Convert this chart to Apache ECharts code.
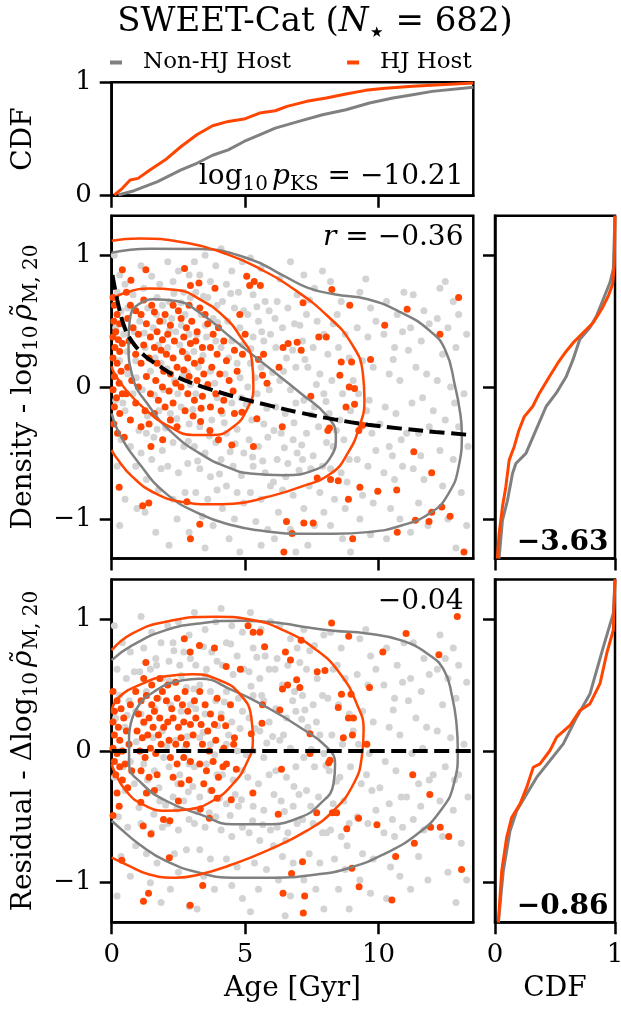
<!DOCTYPE html>
<html><head><meta charset="utf-8">
<script src="https://cdn.jsdelivr.net/npm/echarts@6/dist/echarts.min.js"></script>
<style>html,body{margin:0;padding:0;background:#fff}#c{width:621px;height:1011px}</style>
</head><body><div id="c"></div>
<script>
// ---------------- axis / tick data ----------------
const AGE_MIN = 0, AGE_MAX = 13.55;
const RHO_MIN = -1.3, RHO_MAX = 1.3;
const ageTicks = [0, 5, 10];
const rhoTicks = [-1, 0, 1];
const cdfTicks = [0, 1];

// ---------------- scatter: density panel ----------------
const nonHjDensity = [
[0.1,1.0],[0.3,0.85],[0.5,0.78],[0.2,0.72],[0.8,0.70],[0.6,0.60],[0.35,0.58],[0.15,0.45],[0.45,0.40],[0.85,0.42],[0.3,0.20],[0.6,0.10],[0.9,0.20],[0.15,-0.10],[0.5,-0.18],[0.8,-0.05],[0.35,-0.40],[0.7,-0.45],[0.2,-0.60],[0.9,-0.60],[0.5,-0.85],[0.95,-0.92],[0.3,-1.05],
[1.1,0.92],[1.5,0.84],[1.8,0.78],[1.2,0.75],[1.7,0.68],[1.35,0.60],[1.9,0.62],[1.05,0.50],[1.55,0.45],[1.95,0.50],[1.25,0.30],[1.75,0.32],[1.45,0.12],[1.85,0.18],[1.15,-0.02],[1.6,-0.06],[1.95,-0.02],[1.3,-0.35],[1.7,-0.32],[1.1,-0.50],[1.5,-0.55],[1.9,-0.48],[1.3,-0.70],[1.75,-0.78],[1.25,-0.95],[1.65,-1.1],[1.85,-0.62],
[2.1,0.95],[2.5,0.88],[2.9,0.85],[2.3,0.80],[2.7,0.72],[2.15,0.65],[2.6,0.64],[2.95,0.68],[2.25,0.52],[2.75,0.55],[2.4,0.42],[2.9,0.40],[2.1,0.30],[2.55,0.32],[2.8,0.25],[2.35,0.05],[2.65,0.08],[2.95,0.02],[2.2,-0.20],[2.6,-0.15],[2.9,-0.28],[2.3,-0.42],[2.7,-0.45],[2.1,-0.60],[2.5,-0.65],[2.85,-0.58],[2.3,-0.85],[2.75,-0.80],[2.45,-1.0],[2.9,-1.1],[2.15,-1.2],
[3.1,0.95],[3.5,1.00],[3.9,0.92],[3.3,0.85],[3.7,0.80],[3.15,0.72],[3.6,0.68],[3.95,0.62],[3.35,0.55],[3.8,0.52],[3.2,0.40],[3.55,0.38],[3.9,0.35],[3.25,0.15],[3.7,0.12],[3.15,-0.05],[3.6,0.0],[3.95,-0.08],[3.3,-0.30],[3.75,-0.25],[3.1,-0.45],[3.5,-0.50],[3.9,-0.42],[3.3,-0.62],[3.7,-0.68],[3.15,-0.80],[3.6,-0.85],[3.95,-0.78],[3.4,-0.98],[3.8,-1.05],[3.5,-1.22],
[4.1,1.05],[4.5,0.88],[4.9,0.95],[4.3,0.78],[4.75,0.72],[4.15,0.65],[4.6,0.60],[4.95,0.58],[4.35,0.50],[4.8,0.45],[4.1,0.30],[4.5,0.35],[4.9,0.32],[4.25,0.10],[4.7,0.18],[4.15,-0.20],[4.5,-0.12],[4.85,-0.08],[4.3,-0.35],[4.7,-0.32],[4.1,-0.55],[4.55,-0.60],[4.95,-0.50],[4.3,-0.75],[4.7,-0.80],[4.15,-0.92],[4.6,-1.0],[4.95,-0.88],[4.4,-1.15],[4.8,-1.25],
[5.2,0.98],[5.6,0.90],[5.3,0.70],[5.75,0.65],[5.1,0.55],[5.5,0.50],[5.9,0.58],[5.3,0.38],[5.7,0.35],[5.95,0.40],[5.2,0.18],[5.6,0.15],[5.1,0.0],[5.45,-0.05],[5.9,-0.02],[5.25,-0.25],[5.7,-0.28],[5.15,-0.40],[5.5,-0.45],[5.85,-0.38],[5.3,-0.60],[5.75,-0.65],[5.2,-0.80],[5.6,-0.85],[5.95,-0.75],[5.4,-1.02],[5.85,-1.08],[5.6,-1.2],
[6.3,0.82],[6.7,0.95],[6.2,0.65],[6.6,0.60],[6.95,0.70],[6.4,0.45],[6.85,0.48],[6.15,0.30],[6.55,0.22],[6.9,0.15],[6.3,0.05],[6.7,-0.02],[6.15,-0.15],[6.5,-0.20],[6.9,-0.12],[6.35,-0.35],[6.8,-0.40],[6.2,-0.55],[6.6,-0.58],[6.95,-0.50],[6.4,-0.78],[6.8,-0.82],[6.25,-0.95],[6.7,-1.08],[6.1,-1.15],[6.9,-1.25],
[7.2,0.85],[7.6,0.75],[7.9,0.88],[7.3,0.55],[7.7,0.50],[7.15,0.35],[7.55,0.30],[7.95,0.40],[7.35,0.15],[7.8,0.10],[7.2,-0.10],[7.6,-0.15],[7.95,-0.05],[7.3,-0.35],[7.75,-0.30],[7.15,-0.55],[7.55,-0.52],[7.9,-0.60],[7.4,-0.75],[7.8,-0.80],[7.2,-0.92],[7.6,-1.05],[7.95,-0.95],[7.35,-1.2],
[8.2,0.80],[8.6,0.65],[8.3,0.48],[8.75,0.40],[8.1,0.25],[8.5,0.30],[8.9,0.22],[8.25,0.05],[8.65,-0.05],[8.15,-0.20],[8.55,-0.25],[8.95,-0.18],[8.3,-0.45],[8.7,-0.40],[8.2,-0.62],[8.6,-0.65],[8.9,-0.55],[8.35,-0.85],[8.75,-0.92],[8.2,-1.05],[8.65,-1.15],[8.95,-1.25],
[9.3,0.72],[9.7,0.60],[9.2,0.45],[9.6,0.38],[9.9,0.50],[9.4,0.20],[9.8,0.15],[9.25,-0.05],[9.65,-0.10],[9.35,-0.30],[9.75,-0.35],[9.2,-0.55],[9.6,-0.60],[9.9,-0.48],[9.4,-0.82],[9.8,-0.88],[9.3,-1.0],[9.7,-1.12],
[10.3,0.65],[10.7,0.55],[10.2,0.40],[10.6,0.30],[10.9,0.42],[10.4,0.10],[10.8,0.05],[10.25,-0.15],[10.65,-0.20],[10.4,-0.45],[10.85,-0.40],[10.2,-0.65],[10.6,-0.70],[10.9,-0.60],[10.45,-0.92],[10.8,-1.0],[10.3,-1.15],
[11.3,0.70],[11.7,0.58],[11.2,0.45],[11.6,0.35],[11.9,0.48],[11.4,0.15],[11.8,0.10],[11.25,-0.12],[11.65,-0.08],[11.5,-0.35],[11.9,-0.30],[11.3,-0.62],[11.7,-0.70],[11.5,-0.88],[11.85,-1.05],[11.2,-1.1],
[12.3,0.75],[12.8,0.65],[12.2,0.52],[12.6,0.45],[13.0,0.55],[12.4,0.25],[12.9,0.30],[13.3,0.40],[12.2,0.05],[12.7,0.00],[13.2,-0.05],[12.5,-0.25],[13.0,-0.30],[12.3,-0.48],[12.8,-0.55],[13.35,-0.45],[12.4,-0.75],[13.1,-0.80],[12.6,-1.0],[13.3,-1.05],[12.9,-1.22],
[1.22,0.41],[1.63,0.22],[2.07,0.14],[2.48,-0.05],[2.83,0.11],[3.04,-0.17],[3.42,0.24],[3.86,0.03],[4.22,-0.27],[4.63,-0.43],[5.04,-0.13],[5.38,0.07],[5.81,-0.16],[6.08,-0.33],[6.47,-0.46],[6.83,-0.27],[7.12,-0.44],[7.48,-0.21],[0.92,0.07],[1.34,-0.22],[1.77,-0.18],[2.16,0.43],[2.61,0.47],[3.08,0.27],[3.51,0.47],[3.97,0.49],[4.38,0.22],[4.81,0.07],[5.22,0.29],[5.62,0.42],[6.03,0.11],[6.44,0.12],[6.78,0.28],[7.24,0.21],[7.67,0.02],[8.03,-0.11],[8.42,-0.33],[1.02,-0.33],[1.58,-0.38],[2.02,-0.31],[2.44,-0.24],[2.87,-0.41],[3.22,-0.56],[3.66,-0.37],[4.04,-0.66],[4.44,-0.49],[4.86,-0.67],[5.28,-0.53],[5.66,-0.56],[6.06,-0.72],[6.52,-0.68],[7.02,-0.63],[7.46,-0.62],[0.58,0.27],[0.42,-0.12],[1.68,0.55],[2.33,0.71],[3.44,0.69],[4.46,0.71],[5.44,0.61],[6.12,0.52],[7.05,0.47],[7.42,0.66],[8.45,0.55],[9.05,0.05],[9.55,-0.18],[10.05,-0.28],[10.52,-0.52],[11.05,-0.35],[11.58,-0.52],[12.05,-0.18],[12.85,-0.12],[10.55,0.21],[11.12,0.28],[9.52,0.82],[10.95,0.72],[12.5,0.8],[8.05,-0.42],[8.82,-0.72]
];
const hjDensity = [
[0.40,0.89],[1.28,0.89],[2.73,0.90],[5.06,0.84],[5.17,0.77],[5.34,0.80],[5.57,0.77],[2.95,0.77],[3.27,0.79],[3.87,0.75],[0.72,0.81],[8.25,0.74],[13.0,0.68],[7.17,0.64],[8.92,0.62],[11.07,0.59],[10.23,0.47],[12.3,0.40],[7.76,0.38],[8.04,0.38],[6.61,0.33],[6.95,0.34],[6.42,0.30],[7.1,0.28],[5.69,0.25],[5.5,0.21],[8.6,0.19],[8.99,0.19],[9.7,0.21],[8.55,0.09],[8.9,0.0],[9.1,-0.01],[6.27,0.15],[5.65,0.09],[5.82,0.03],[7.46,-0.07],[8.78,-0.15],[9.1,-0.13],[9.4,-0.29],[8.16,-0.31],[8.1,-0.33],[9.26,-0.33],[11.32,-0.49],[11.99,-0.65],[7.7,-0.69],[8.2,-0.70],[8.49,-0.71],[8.87,-0.85],[9.3,-0.76],[9.97,-0.79],[10.68,-0.78],[11.99,-0.95],[12.37,-0.91],[12.68,-0.98],[11.38,-1.01],[10.7,-1.10],[11.89,-1.02],[6.55,-1.02],[7.2,-1.03],[7.55,-1.03],[6.76,-1.11],[9.03,-1.15],[6.45,-1.25],[13.2,-1.25],[5.31,-0.45],[6.39,-0.30],[4.0,-0.40],[4.5,-0.44],[5.44,-0.24],[4.88,-0.19],[3.68,-0.33],[3.33,-0.26],[3.3,-1.04],[2.95,-1.15],[1.16,-0.90],[1.39,-0.88],[0.28,-0.76],[0.47,-0.38],[1.47,-0.45],[1.91,-0.40],[2.82,-0.87],
[0.05,0.68],[0.1,0.62],[0.2,0.55],[0.08,0.50],[0.3,0.48],[0.15,0.42],[0.05,0.38],[0.25,0.36],[0.4,0.33],[0.12,0.30],[0.3,0.27],[0.05,0.22],[0.2,0.18],[0.35,0.12],[0.1,0.08],[0.28,0.03],[0.05,-0.02],[0.18,-0.08],[0.4,-0.05],[0.1,-0.15],[0.3,-0.20],[0.08,-0.28],[0.22,-0.35],
[0.55,0.72],[0.7,0.62],[0.9,0.58],[0.6,0.52],[1.1,0.55],[0.8,0.45],[1.0,0.40],[1.3,0.48],[0.65,0.35],[1.2,0.32],[1.45,0.38],[0.9,0.25],[1.1,0.18],[0.6,0.15],[1.4,0.22],[0.75,0.05],[1.0,0.0],[1.3,0.08],[0.55,-0.05],[0.9,-0.12],[1.25,-0.18],[1.45,-0.05],[0.7,-0.25],[1.1,-0.30],[1.4,-0.28],[1.5,0.62],[1.2,0.66],
[1.6,0.57],[1.8,0.50],[2.0,0.55],[2.2,0.47],[1.7,0.42],[1.9,0.36],[2.1,0.40],[2.35,0.35],[1.6,0.30],[1.85,0.28],[2.05,0.25],[2.3,0.22],[1.7,0.18],[1.95,0.12],[2.2,0.10],[2.45,0.15],[1.65,0.05],[1.9,0.0],[2.15,-0.03],[2.4,0.03],[1.75,-0.10],[2.0,-0.15],[2.3,-0.12],[1.6,-0.20],[2.2,-0.25],[2.45,-0.30],[2.5,0.58],[2.3,0.62],
[2.6,0.52],[2.8,0.45],[3.0,0.50],[3.2,0.42],[2.7,0.38],[2.95,0.33],[3.15,0.35],[3.4,0.30],[2.65,0.27],[2.85,0.22],[3.1,0.18],[3.35,0.20],[2.7,0.13],[2.9,0.08],[3.2,0.05],[3.45,0.10],[2.6,0.0],[2.85,-0.05],[3.1,-0.10],[3.4,-0.07],[2.75,-0.18],[3.05,-0.22],[3.35,-0.16],[3.5,0.55],[3.3,0.60],[2.9,0.62],
[3.6,0.48],[3.8,0.40],[4.0,0.45],[4.2,0.35],[3.7,0.30],[3.95,0.25],[4.3,0.20],[4.6,0.28],[3.75,0.15],[4.05,0.10],[4.4,0.05],[4.7,0.12],[3.6,0.02],[3.9,-0.05],[4.2,-0.10],[4.55,-0.03],[3.7,-0.15],[4.1,-0.18],[4.6,-0.20],[4.9,0.25],[5.0,0.40],[4.8,0.55]
];

// ---------------- scatter: residual panel ----------------
const nonHjResidual = [
[0.1,0.95],[0.4,0.82],[0.7,0.75],[0.2,0.62],[0.55,0.55],[0.85,0.60],[0.3,0.42],[0.65,0.38],[0.15,0.25],[0.5,0.18],[0.9,0.30],[0.3,0.0],[0.7,-0.08],[0.1,-0.20],[0.5,-0.30],[0.85,-0.25],[0.25,-0.50],[0.6,-0.58],[0.9,-0.72],[0.35,-0.80],[0.7,-0.95],[0.2,-1.10],
[1.1,1.02],[1.5,0.90],[1.85,0.82],[1.2,0.78],[1.65,0.70],[1.05,0.60],[1.45,0.62],[1.9,0.55],[1.3,0.45],[1.75,0.40],[1.1,0.28],[1.55,0.10],[1.9,0.15],[1.2,-0.10],[1.6,-0.15],[1.95,-0.05],[1.35,-0.32],[1.8,-0.38],[1.1,-0.55],[1.5,-0.62],[1.9,-0.58],[1.3,-0.78],[1.7,-0.85],[1.45,-1.0],[1.85,-1.15],
[2.1,0.95],[2.5,0.98],[2.9,0.88],[2.3,0.82],[2.7,0.75],[2.15,0.68],[2.55,0.65],[2.95,0.70],[2.35,0.52],[2.8,0.48],[2.2,0.35],[2.6,0.30],[2.95,0.35],[2.4,0.08],[2.75,0.02],[2.15,-0.12],[2.55,-0.18],[2.9,-0.10],[2.3,-0.35],[2.7,-0.38],[2.1,-0.55],[2.5,-0.60],[2.9,-0.52],[2.35,-0.78],[2.8,-0.75],[2.5,-0.92],[2.2,-1.05],[2.9,-1.18],
[3.1,1.05],[3.5,0.92],[3.9,0.98],[3.3,0.80],[3.75,0.75],[3.15,0.65],[3.55,0.62],[3.95,0.68],[3.3,0.50],[3.7,0.45],[3.15,0.32],[3.5,0.28],[3.9,0.38],[3.3,0.10],[3.7,0.05],[3.1,-0.12],[3.55,-0.10],[3.95,-0.18],[3.3,-0.35],[3.7,-0.30],[3.1,-0.55],[3.5,-0.58],[3.9,-0.50],[3.3,-0.75],[3.7,-0.82],[3.45,-0.95],[3.85,-1.05],[3.2,-1.20],
[4.1,1.08],[4.5,0.95],[4.9,0.90],[4.3,0.82],[4.7,0.72],[4.15,0.65],[4.55,0.58],[4.95,0.62],[4.3,0.45],[4.75,0.40],[4.1,0.28],[4.5,0.22],[4.9,0.30],[4.3,0.05],[4.7,0.0],[4.15,-0.18],[4.55,-0.22],[4.9,-0.15],[4.3,-0.40],[4.75,-0.42],[4.1,-0.60],[4.5,-0.65],[4.9,-0.58],[4.3,-0.82],[4.7,-0.88],[4.5,-1.02],[4.9,-1.12],
[5.2,1.05],[5.6,0.92],[5.95,0.98],[5.3,0.78],[5.75,0.72],[5.15,0.60],[5.55,0.55],[5.9,0.62],[5.3,0.42],[5.7,0.38],[5.15,0.25],[5.55,0.15],[5.9,0.22],[5.3,0.0],[5.7,-0.05],[5.1,-0.20],[5.5,-0.25],[5.9,-0.18],[5.3,-0.42],[5.7,-0.45],[5.15,-0.62],[5.55,-0.68],[5.95,-0.60],[5.35,-0.85],[5.8,-0.90],[5.5,-1.05],[5.2,-1.22],
[6.3,0.95],[6.7,0.85],[6.2,0.70],[6.6,0.65],[6.95,0.78],[6.4,0.50],[6.85,0.45],[6.15,0.32],[6.55,0.25],[6.9,0.30],[6.3,0.08],[6.7,0.02],[6.15,-0.15],[6.55,-0.20],[6.9,-0.12],[6.35,-0.38],[6.8,-0.42],[6.2,-0.58],[6.6,-0.62],[6.95,-0.55],[6.4,-0.80],[6.8,-0.85],[6.25,-0.98],[6.7,-1.10],[6.5,-1.25],
[7.2,0.92],[7.6,0.80],[7.95,0.88],[7.3,0.62],[7.7,0.55],[7.15,0.42],[7.55,0.35],[7.9,0.42],[7.35,0.18],[7.8,0.12],[7.2,-0.05],[7.6,-0.12],[7.95,-0.02],[7.3,-0.30],[7.75,-0.35],[7.15,-0.52],[7.55,-0.55],[7.9,-0.62],[7.4,-0.78],[7.8,-0.85],[7.2,-0.98],[7.65,-1.05],[7.95,-1.2],
[8.2,0.90],[8.6,0.78],[8.3,0.62],[8.75,0.55],[8.1,0.40],[8.5,0.35],[8.9,0.28],[8.25,0.12],[8.65,0.05],[8.15,-0.15],[8.55,-0.20],[8.95,-0.12],[8.3,-0.40],[8.7,-0.38],[8.2,-0.60],[8.6,-0.65],[8.9,-0.55],[8.35,-0.82],[8.75,-0.90],[8.5,-1.05],[8.9,-1.2],
[9.3,0.85],[9.7,0.72],[9.2,0.58],[9.6,0.50],[9.9,0.62],[9.4,0.30],[9.8,0.22],[9.25,0.05],[9.65,-0.02],[9.35,-0.25],[9.75,-0.30],[9.2,-0.50],[9.6,-0.55],[9.9,-0.45],[9.4,-0.78],[9.8,-0.82],[9.3,-0.98],[9.7,-1.08],
[10.3,0.78],[10.7,0.65],[10.2,0.50],[10.6,0.40],[10.9,0.52],[10.4,0.18],[10.8,0.12],[10.25,-0.08],[10.65,-0.15],[10.4,-0.40],[10.85,-0.35],[10.2,-0.62],[10.6,-0.65],[10.9,-0.58],[10.45,-0.88],[10.8,-0.95],[10.3,-1.12],
[11.3,0.82],[11.7,0.70],[11.2,0.55],[11.6,0.45],[11.9,0.58],[11.4,0.25],[11.8,0.18],[11.25,-0.02],[11.65,0.02],[11.5,-0.25],[11.9,-0.22],[11.3,-0.52],[11.7,-0.60],[11.5,-0.80],[11.85,-0.98],[11.2,-1.05],
[12.3,0.88],[12.8,0.78],[12.2,0.62],[12.6,0.55],[13.0,0.65],[12.4,0.35],[12.9,0.40],[13.3,0.52],[12.2,0.15],[12.7,0.10],[13.2,0.05],[12.5,-0.12],[13.0,-0.18],[12.3,-0.38],[12.8,-0.45],[13.35,-0.35],[12.4,-0.65],[13.1,-0.70],[12.6,-0.92],[13.3,-0.98],[12.9,-1.15],
[1.22,0.21],[1.63,0.32],[2.07,0.04],[2.48,-0.25],[2.83,0.11],[3.04,-0.27],[3.42,0.14],[3.86,-0.03],[4.22,0.37],[4.63,-0.33],[5.04,-0.03],[5.38,0.17],[5.81,0.06],[6.08,-0.33],[6.47,-0.46],[6.83,-0.27],[7.12,0.24],[7.48,0.01],[0.92,0.07],[1.34,-0.22],[1.77,-0.28],[2.16,0.53],[2.61,0.57],[3.08,0.47],[3.51,0.57],[3.97,0.19],[4.38,0.12],[4.81,0.17],[5.22,0.49],[5.62,0.42],[6.03,0.11],[6.44,0.12],[6.78,0.38],[7.24,0.31],[7.67,0.22],[8.03,-0.11],[8.42,-0.23],[1.02,-0.43],[1.58,-0.48],[2.02,-0.41],[2.44,-0.44],[2.87,-0.31],[3.22,-0.46],[3.66,-0.47],[4.04,-0.36],[4.44,-0.49],[4.86,-0.37],[5.28,-0.53],[5.66,-0.56],[6.06,-0.72],[6.52,-0.68],[7.02,-0.33],[7.46,-0.42],[0.58,0.27],[0.42,-0.12],[1.68,0.65],[2.33,0.76],[3.44,0.79],[4.46,0.81],[5.44,0.71],[6.12,0.62],[7.05,0.67],[7.42,0.76],[8.45,0.65],[9.05,0.15],[9.55,-0.18],[10.05,-0.28],[10.52,-0.52],[11.05,-0.35],[11.58,-0.42],[12.05,-0.18],[12.85,-0.22],[10.55,0.31],[11.12,0.38],[9.52,0.92],[10.95,0.82],[12.5,0.7],[8.05,-0.62],[8.82,-0.72]
];
const hjResidual = [
[8.24,0.97],[12.95,1.02],[2.72,0.85],[2.94,0.75],[3.29,0.80],[3.85,0.78],[1.28,0.67],[5.11,0.95],[5.30,0.90],[5.55,0.90],[5.73,0.79],[7.10,0.84],[6.51,0.75],[6.70,0.69],[8.88,0.87],[10.16,0.75],[11.03,0.89],[12.26,0.73],[7.70,0.60],[7.99,0.61],[6.40,0.47],[6.59,0.50],[6.93,0.54],[7.05,0.48],[5.65,0.35],[5.63,0.21],[6.30,0.31],[9.66,0.48],[8.61,0.43],[8.97,0.43],[8.49,0.33],[8.87,0.25],[9.06,0.25],[9.02,0.12],[8.68,0.10],[7.43,0.13],[9.56,0.05],[7.43,-0.02],[8.18,-0.07],[8.13,-0.09],[6.36,-0.14],[4.29,0.64],[4.82,0.62],[4.27,0.19],[4.57,0.05],[5.23,0.13],[4.67,-0.14],[4.17,-0.12],[3.95,-0.36],[4.48,-0.37],[5.29,-0.32],[6.24,-0.48],[7.68,-0.47],[8.27,-0.47],[8.43,-0.47],[9.25,-0.51],[8.81,-0.59],[9.94,-0.56],[11.92,-0.33],[11.28,-0.18],[11.95,-0.58],[12.31,-0.58],[12.63,-0.65],[11.34,-0.70],[10.64,-0.80],[9.00,-0.89],[7.15,-0.84],[6.74,-0.93],[13.11,-0.90],[6.42,-1.08],[7.23,-1.10],[9.27,-1.03],[10.50,-1.13],[7.18,-1.23],[3.41,-1.02],[2.94,-1.17],[1.38,-1.08],[1.19,-1.14],[0.38,-0.83],[2.16,-0.81],[1.18,-0.57],[1.47,-0.63],[1.94,-0.52],[2.18,-0.53],[3.66,-0.51],[3.32,-0.44],[1.09,-0.39],[0.28,-0.42],[0.05,-0.49],
[0.05,0.45],[0.2,0.38],[0.1,0.30],[0.35,0.32],[0.05,0.22],[0.25,0.18],[0.45,0.25],[0.1,0.12],[0.3,0.08],[0.55,0.15],[0.05,0.02],[0.2,-0.02],[0.4,0.0],[0.65,0.05],[0.1,-0.08],[0.3,-0.12],[0.5,-0.10],[0.15,-0.18],[0.4,-0.22],[0.6,-0.28],[0.2,-0.32],[0.7,0.35],[0.75,-0.15],
[0.9,0.45],[1.1,0.38],[1.3,0.42],[1.5,0.35],[1.7,0.40],[1.9,0.45],[1.0,0.28],[1.2,0.22],[1.4,0.25],[1.6,0.30],[1.8,0.25],[0.95,0.15],[1.15,0.10],[1.35,0.12],[1.55,0.18],[1.75,0.12],[1.95,0.18],[1.05,0.0],[1.25,-0.05],[1.45,0.02],[1.65,-0.02],[1.85,0.05],[1.1,-0.15],[1.4,-0.20],[1.7,-0.18],[1.3,-0.32],[1.6,-0.30],[1.5,0.50],[1.8,0.55],[1.2,0.55],
[2.05,0.38],[2.25,0.32],[2.45,0.40],[2.65,0.35],[2.85,0.30],[2.1,0.22],[2.3,0.25],[2.5,0.18],[2.7,0.22],[2.95,0.20],[2.15,0.08],[2.4,0.05],[2.6,0.10],[2.8,0.05],[3.05,0.12],[2.2,-0.05],[2.45,-0.10],[2.7,-0.05],[2.95,-0.08],[2.3,-0.20],[2.6,-0.25],[2.9,-0.22],[2.1,0.50],[2.4,0.52],[2.75,0.45],[3.1,0.38],[3.15,0.25],[2.5,-0.38],
[3.3,0.45],[3.5,0.35],[3.7,0.28],[3.95,0.40],[3.35,0.20],[3.6,0.15],[3.85,0.20],[4.1,0.25],[3.4,0.05],[3.65,0.0],[3.9,0.08],[4.2,0.02],[3.3,-0.10],[3.55,-0.15],[3.8,-0.08],[4.0,-0.20],[3.45,-0.25],[3.75,-0.30],[4.3,-0.10],[4.6,0.10],[4.45,0.35]
];

// ---------------- contours ----------------
const nonHjDensityOuter = [[0,1.02],[1.41,1.05],[3.30,1.047],[5.19,0.97],[6.45,0.844],[7.33,0.755],[8.34,0.704],[9.60,0.666],[10.86,0.564],[11.86,0.437],[12.49,0.285],[12.87,0.005],[13.06,-0.198],[13.12,-0.351],[13.00,-0.605],[12.62,-0.808],[11.99,-0.948],[10.86,-1.05],[9.60,-1.10],[8.34,-1.113],[7.08,-1.113],[5.57,-1.088],[4.56,-1.05],[3.30,-0.961],[2.04,-0.808],[1.03,-0.579],[0.28,-0.351],[0,-0.20]];
const nonHjDensityInner = [[0.78,0.59],[1.54,0.666],[2.42,0.653],[3.30,0.564],[4.56,0.361],[5.82,0.158],[7.08,-0.046],[8.09,-0.224],[8.40,-0.376],[8.21,-0.529],[7.58,-0.63],[6.45,-0.668],[5.19,-0.656],[4.31,-0.605],[3.30,-0.503],[2.29,-0.351],[1.41,-0.147],[0.78,0.081],[0.63,0.335],[0.68,0.513],[0.78,0.59]];
const hjDensityOuter = [[0,1.11],[1.03,1.128],[2.67,1.098],[4.31,1.009],[5.57,0.895],[6.83,0.742],[8.09,0.539],[8.97,0.335],[9.41,0.107],[9.47,-0.097],[9.28,-0.30],[8.84,-0.503],[8.21,-0.656],[7.08,-0.757],[5.82,-0.834],[4.56,-0.884],[3.68,-0.889],[2.67,-0.872],[1.66,-0.808],[0.78,-0.681],[0.15,-0.529],[0,-0.478]];
const hjDensityInner = [[0,0.666],[0.53,0.717],[1.41,0.747],[2.42,0.737],[3.30,0.666],[4.18,0.539],[4.81,0.386],[5.25,0.208],[5.31,0.005],[5.06,-0.173],[4.56,-0.30],[3.80,-0.363],[3.05,-0.363],[2.17,-0.30],[1.28,-0.173],[0.53,-0.02],[0.09,0.107],[0,0.158]];
const nonHjResidualOuter = [[0,0.688],[0.78,0.802],[2.03,0.916],[3.29,0.967],[4.92,0.987],[6.42,0.967],[7.30,0.937],[8.31,0.911],[9.56,0.891],[10.82,0.84],[11.82,0.739],[12.45,0.612],[12.76,0.409],[12.92,0.206],[12.97,0.003],[12.82,-0.251],[12.32,-0.454],[11.44,-0.632],[10.19,-0.784],[8.93,-0.886],[7.68,-0.937],[5.80,-0.962],[4.54,-0.962],[3.29,-0.924],[2.03,-0.835],[1.03,-0.708],[0.28,-0.581],[0,-0.53]];
const nonHjResidualInner = [[0.65,0.104],[0.90,0.307],[1.66,0.459],[2.66,0.536],[3.29,0.548],[4.54,0.459],[5.80,0.332],[7.05,0.18],[8.06,0.028],[8.37,-0.099],[8.31,-0.251],[7.80,-0.404],[7.05,-0.505],[5.80,-0.556],[4.54,-0.556],[3.29,-0.48],[2.03,-0.378],[1.15,-0.251],[0.65,-0.099],[0.65,0.104]];
const hjResidualOuter = [[0,0.764],[0.78,0.891],[2.03,0.98],[3.91,1.018],[5.17,0.997],[6.42,0.916],[7.68,0.764],[8.56,0.586],[9.18,0.358],[9.44,0.155],[9.37,-0.048],[9.06,-0.251],[8.31,-0.454],[7.30,-0.607],[5.80,-0.759],[4.54,-0.86],[3.29,-0.937],[2.41,-0.962],[1.41,-0.937],[0.53,-0.86],[0,-0.81]];
const hjResidualInner = [[0,0.307],[0.28,0.409],[1.15,0.51],[2.03,0.566],[3.04,0.581],[4.04,0.536],[4.79,0.434],[5.23,0.256],[5.29,0.079],[5.04,-0.099],[4.54,-0.251],[3.79,-0.378],[2.91,-0.442],[2.03,-0.454],[1.15,-0.404],[0.53,-0.302],[0.09,-0.15],[0,-0.099]];

// ---------------- trend lines ----------------
const densityTrend = [[0.03,0.85],[0.21,0.66],[0.47,0.46],[0.78,0.34],[1.28,0.23],[1.79,0.16],[2.42,0.08],[3.30,0.01],[4.56,-0.07],[5.82,-0.135],[7.08,-0.195],[8.34,-0.245],[9.60,-0.285],[10.86,-0.315],[12.12,-0.34],[13.55,-0.365]];
const residualTrend = [[0,0],[13.55,0]];

// ---------------- CDFs ----------------
const hjAgeCdf = [[0.1,0.006],[0.40,0.065],[0.69,0.139],[0.99,0.153],[1.43,0.227],[2.01,0.316],[2.60,0.434],[3.19,0.537],[3.78,0.617],[4.37,0.655],[4.96,0.676],[5.54,0.729],[6.13,0.749],[6.57,0.788],[7.31,0.832],[8.04,0.861],[8.78,0.897],[9.51,0.929],[10.25,0.947],[11.28,0.965],[12.31,0.979],[13.55,0.994]];
const nonHjAgeCdf = [[0.25,0.006],[0.84,0.044],[1.72,0.124],[2.60,0.227],[3.19,0.286],[3.78,0.357],[4.37,0.404],[4.96,0.478],[5.54,0.537],[6.13,0.596],[7.01,0.655],[7.90,0.714],[8.78,0.758],[9.66,0.817],[10.54,0.861],[11.28,0.891],[12.01,0.92],[13.55,0.956]];
const hjDensityCdf = [[0.02,-1.3],[0.034,-1.113],[0.062,-0.91],[0.09,-0.757],[0.118,-0.554],[0.16,-0.452],[0.20,-0.325],[0.244,-0.224],[0.314,-0.147],[0.37,-0.046],[0.454,0.081],[0.524,0.183],[0.594,0.272],[0.65,0.335],[0.734,0.412],[0.818,0.488],[0.888,0.59],[0.944,0.691],[0.98,0.78],[0.994,0.92],[1,1.3]];
const nonHjDensityCdf = [[0.034,-1.3],[0.062,-1.011],[0.104,-0.859],[0.146,-0.656],[0.174,-0.579],[0.258,-0.503],[0.342,-0.325],[0.426,-0.147],[0.51,-0.046],[0.594,0.081],[0.65,0.208],[0.706,0.361],[0.79,0.45],[0.846,0.539],[0.902,0.666],[0.958,0.793],[0.986,0.895],[1,1.3]];
const hjResidualCdf = [[0.028,-1.3],[0.056,-0.911],[0.097,-0.657],[0.139,-0.505],[0.208,-0.404],[0.264,-0.277],[0.319,-0.124],[0.375,-0.099],[0.458,0.003],[0.514,0.104],[0.625,0.193],[0.708,0.307],[0.792,0.358],[0.875,0.51],[0.931,0.739],[0.986,0.916],[1,1.3]];
const nonHjResidualCdf = [[0.028,-1.3],[0.069,-0.911],[0.125,-0.607],[0.181,-0.454],[0.264,-0.327],[0.347,-0.201],[0.458,-0.074],[0.569,0.053],[0.681,0.256],[0.792,0.434],[0.903,0.789],[0.986,1.043],[1,1.3]];

// ---------------- styling ----------------
const GRAY_PT = '#d3d3d3', GRAY_LN = '#808080', ORANGE = '#ff4500';
const FAM = '"DejaVu Serif", serif';
const minusFmt = v => (v < 0 ? '\u2212' : '') + Math.abs(v);

const L = 111.7, W = 361.6, RL = 495, RW = 120;
const grids = [
  {left: L, top: 82.3, width: W, height: 113.4},
  {left: L, top: 215.7, width: W, height: 342.8},
  {left: RL, top: 215.7, width: RW, height: 342.8},
  {left: L, top: 579.5, width: W, height: 342.8},
  {left: RL, top: 579.5, width: RW, height: 342.8}
].map(g => Object.assign({show: true, borderColor: '#000', borderWidth: 2.5, backgroundColor: 'transparent', containLabel: false, outerBoundsMode: 'none'}, g));

function axis(gi, min, max, ticks, showLabels, extra) {
  return Object.assign({
    type: 'value', gridIndex: gi, min, max,
    splitLine: {show: false}, axisLine: {show: true, onZero: false, lineStyle: {color: '#000', width: 2.5}},
    axisTick: {show: true, length: 12, inside: false, customValues: ticks, lineStyle: {color: '#000', width: 2.5}},
    axisLabel: {show: showLabels, customValues: ticks, fontSize: 26, fontFamily: FAM, color: '#000', margin: 20, formatter: minusFmt}
  }, extra || {});
}
const xAxes = [
  axis(0, AGE_MIN, AGE_MAX, ageTicks, false, {position: 'bottom'}),
  axis(1, AGE_MIN, AGE_MAX, ageTicks, false, {position: 'bottom'}),
  axis(2, 0, 1, cdfTicks, false, {position: 'bottom'}),
  axis(3, AGE_MIN, AGE_MAX, ageTicks, true, {position: 'bottom', name: 'Age [Gyr]', nameLocation: 'middle', nameGap: 52, nameTextStyle: {fontSize: 28, fontFamily: FAM, color: '#000'}}),
  axis(4, 0, 1, cdfTicks, true, {position: 'bottom', name: 'CDF', nameLocation: 'middle', nameGap: 52, nameTextStyle: {fontSize: 28, fontFamily: FAM, color: '#000'}})
];
const yAxes = [
  axis(0, 0, 1, cdfTicks, true, {position: 'left'}),
  axis(1, RHO_MIN, RHO_MAX, rhoTicks, true, {position: 'left'}),
  axis(2, RHO_MIN, RHO_MAX, rhoTicks, false, {position: 'left'}),
  axis(3, RHO_MIN, RHO_MAX, rhoTicks, true, {position: 'left'}),
  axis(4, RHO_MIN, RHO_MAX, rhoTicks, false, {position: 'left'})
];

const series = [];
function scat(i, name, data, color, z) {
  series.push({type: 'scatter', name, xAxisIndex: i, yAxisIndex: i, data, symbolSize: 7, itemStyle: {color, opacity: 1}, z, silent: true, animation: false});
}
function line(i, name, data, color, width, z, smooth, dash) {
  series.push({type: 'line', name, xAxisIndex: i, yAxisIndex: i, data, showSymbol: false, smooth: smooth || false,
    lineStyle: {color, width, type: dash || 'solid'}, itemStyle: {color}, z, silent: true, animation: false, clip: true});
}
// top CDF of age
line(0, 'Non-HJ Host', nonHjAgeCdf, GRAY_LN, 3, 3);
line(0, 'HJ Host', hjAgeCdf, ORANGE, 3, 4);
// density panel
scat(1, 'Non-HJ Host', nonHjDensity, GRAY_PT, 1);
scat(1, 'HJ Host', hjDensity, ORANGE, 2);
line(1, 'Non-HJ Host', nonHjDensityOuter, GRAY_LN, 2.5, 3, 0.5);
line(1, 'Non-HJ Host', nonHjDensityInner, GRAY_LN, 2.5, 3, 0.5);
line(1, 'HJ Host', hjDensityOuter, ORANGE, 2.5, 4, 0.5);
line(1, 'HJ Host', hjDensityInner, ORANGE, 2.5, 4, 0.5);
line(1, 'trend', densityTrend, '#000', 4, 5, 0.4, [15, 6.5]);
// right CDF density
line(2, 'Non-HJ Host', nonHjDensityCdf, GRAY_LN, 3, 3);
line(2, 'HJ Host', hjDensityCdf, ORANGE, 3, 4);
// residual panel
scat(3, 'Non-HJ Host', nonHjResidual, GRAY_PT, 1);
scat(3, 'HJ Host', hjResidual, ORANGE, 2);
line(3, 'Non-HJ Host', nonHjResidualOuter, GRAY_LN, 2.5, 3, 0.5);
line(3, 'Non-HJ Host', nonHjResidualInner, GRAY_LN, 2.5, 3, 0.5);
line(3, 'HJ Host', hjResidualOuter, ORANGE, 2.5, 4, 0.5);
line(3, 'HJ Host', hjResidualInner, ORANGE, 2.5, 4, 0.5);
line(3, 'trend', residualTrend, '#000', 4, 5, false, [15, 6.5]);
// right CDF residual
line(4, 'Non-HJ Host', nonHjResidualCdf, GRAY_LN, 3, 3);
line(4, 'HJ Host', hjResidualCdf, ORANGE, 3, 4);

// ---------------- math-style text helper ----------------
const mctx = document.createElement('canvas').getContext('2d');
function fontStr(p) { return (p.it ? 'italic ' : '') + (p.b ? 'bold ' : '') + p.s + 'px "DejaVu Serif"'; }
function measure(p) { mctx.font = fontStr(p); return mctx.measureText(p.t).width; }
function mk(p, x, base) {
  return {type: 'text', x: x, y: base - 0.3 * p.s, silent: true,
    style: {text: p.t, font: fontStr(p), fill: '#000', align: 'left', verticalAlign: 'middle'}};
}
function mathGroup(parts, ax, ay, align, rot) {
  let x = 0, prevX = 0, prevW = 0; const kids = [];
  parts.forEach(p => {
    const wd = measure(p);
    if (p.over) { kids.push(mk(p, prevX + prevW / 2 - wd / 2 + (p.dx || 0), p.dy || 0)); return; }
    x += (p.dx || 0);
    kids.push(mk(p, x, p.dy || 0)); prevX = x; prevW = wd; x += wd;
  });
  const off = align === 'right' ? -x : align === 'center' ? -x / 2 : 0;
  kids.forEach(k => { k.x += off; });
  return {type: 'group', x: ax, y: ay, rotation: rot || 0, silent: true, children: kids};
}
const R90 = Math.PI / 2;
const graphics = [
  mathGroup([{t: 'SWEET-Cat (', s: 34}, {t: 'N', s: 34, it: true}, {t: '\u2605', s: 15, dy: 6, dx: 1}, {t: ' = 682)', s: 34, dx: 2}], 315, 32, 'center'),
  mathGroup([{t: 'CDF', s: 28}], 32, 139, 'center', R90),
  mathGroup([{t: 'Density - log', s: 28}, {t: '10', s: 20, dy: 6}, {t: '\u03c1', s: 28, it: true, dx: 5}, {t: '\u02dc', s: 28, over: true, dx: 2}, {t: 'M, 20', s: 20, dy: 6, dx: 1}], 32, 387, 'center', R90),
  mathGroup([{t: 'Residual - \u0394log', s: 28}, {t: '10', s: 20, dy: 6}, {t: '\u03c1', s: 28, it: true, dx: 5}, {t: '\u02dc', s: 28, over: true, dx: 2}, {t: 'M, 20', s: 20, dy: 6, dx: 1}], 32, 751, 'center', R90),
  mathGroup([{t: 'log', s: 28}, {t: '10', s: 20, dy: 6}, {t: 'p', s: 28, it: true, dx: 4}, {t: 'KS', s: 20, dy: 6}, {t: ' = \u221210.21', s: 28}], 463.5, 185, 'right'),
  mathGroup([{t: 'r', s: 28, it: true}, {t: ' = \u22120.36', s: 28}], 463.5, 246.5, 'right'),
  mathGroup([{t: '\u22120.04', s: 28}], 463.5, 610.5, 'right'),
  mathGroup([{t: '\u22123.63', s: 28, b: true}], 608.5, 551.5, 'right'),
  mathGroup([{t: '\u22120.86', s: 28, b: true}], 608.5, 915, 'right')
];

const chart = echarts.init(document.getElementById('c'), null, {renderer: 'canvas'});
chart.setOption({
  animation: false,
  backgroundColor: '#fff',
  grid: grids,
  xAxis: xAxes,
  yAxis: yAxes,
  legend: {
    left: 110, top: 51, padding: 0, icon: 'rect', itemWidth: 12, itemHeight: 4, itemGap: 56, selectedMode: false,
    textStyle: {fontSize: 23, fontFamily: FAM, color: '#000', padding: [0, 0, 0, 16]},
    data: [{name: 'Non-HJ Host', itemStyle: {color: GRAY_LN}}, {name: 'HJ Host', itemStyle: {color: ORANGE}}]
  },
  series: series,
  graphic: graphics
});
</script></body></html>
